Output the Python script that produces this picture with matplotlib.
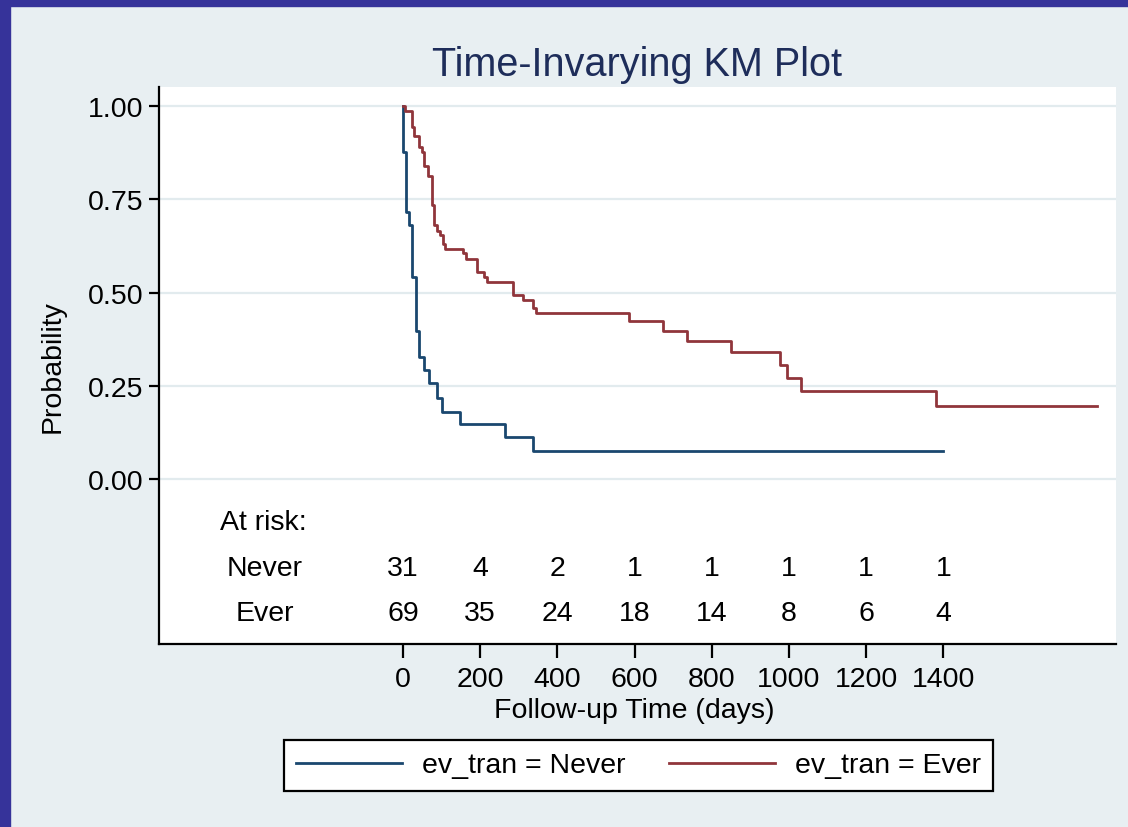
import matplotlib
matplotlib.use("Agg")
import matplotlib.pyplot as plt
from matplotlib.patches import Rectangle

plt.rcParams['font.family'] = ['Liberation Sans', 'DejaVu Sans']

# KM step data (days, survival probability)
never_t = [0, 1, 8, 15, 23, 34, 42, 55, 68, 89, 102, 149, 264, 338, 1400]
never_s = [1.0, 0.877, 0.716, 0.682, 0.542, 0.397, 0.327, 0.293, 0.257,
           0.217, 0.180, 0.147, 0.112, 0.076, 0.076]

ever_t = [0, 5, 23, 29, 42, 48, 55, 66, 74, 81, 89, 96, 103, 109, 156, 162,
          191, 211, 217, 284, 310, 338, 345, 586, 674, 735, 849, 977, 996,
          1030, 1380, 1798]
ever_s = [1.0, 0.987, 0.945, 0.919, 0.889, 0.876, 0.840, 0.812, 0.736, 0.681,
          0.666, 0.653, 0.630, 0.618, 0.605, 0.590, 0.556, 0.542, 0.529,
          0.493, 0.480, 0.458, 0.445, 0.424, 0.396, 0.369, 0.341, 0.306,
          0.271, 0.236, 0.195, 0.195]

risk_times = [0, 200, 400, 600, 800, 1000, 1200, 1400]
risk_never = [31, 4, 2, 1, 1, 1, 1, 1]
risk_ever = [69, 35, 24, 18, 14, 8, 6, 4]

yticks = [0.0, 0.25, 0.5, 0.75, 1.0]

bg = '#e8eff2'
blue = '#1a476f'
red = '#90353b'
fs = 20.5

fig = plt.figure(figsize=(11.28, 8.28), dpi=100, facecolor=bg)
# dark frame on top and left edge
fig.patches.append(Rectangle((0, 1 - 7 / 828), 1, 7 / 828, transform=fig.transFigure,
                             color='#36339a', zorder=0))
fig.patches.append(Rectangle((0, 0), 10 / 1128, 1, transform=fig.transFigure,
                             color='#36339a', zorder=0))

ax = fig.add_axes([159 / 1128, 1 - 645 / 828, 957 / 1128, 557 / 828])
ax.set_facecolor('white')

for y in yticks:
    ax.axhline(y, color='#e2ebee', lw=1.6, zorder=1)

ax.step(never_t, never_s, where='post', color=blue, lw=2, label='ev_tran = Never', zorder=3)
ax.step(ever_t, ever_s, where='post', color=red, lw=2, label='ev_tran = Ever', zorder=3)

ax.set_xlim(-632, 1847)
ax.set_ylim(-0.442, 1.051)
ax.set_xticks(risk_times)
ax.set_yticks(yticks)
ax.set_yticklabels(['%.2f' % v for v in yticks])
ax.tick_params(axis='x', length=10, width=1.6, labelsize=fs, pad=6)
ax.tick_params(axis='y', length=7, width=1.6, labelsize=fs, pad=4)

for s in ['top', 'right']:
    ax.spines[s].set_visible(False)
for s in ['left', 'bottom']:
    ax.spines[s].set_linewidth(1.6)

# at-risk table
ax.text(-475, -0.116, 'At risk:', fontsize=fs, ha='left', va='center')
ax.text(-358, -0.239, 'Never', fontsize=fs, ha='center', va='center')
ax.text(-358, -0.360, 'Ever', fontsize=fs, ha='center', va='center')
for t, n, e in zip(risk_times, risk_never, risk_ever):
    ax.text(t, -0.239, str(n), fontsize=fs, ha='center', va='center')
    ax.text(t, -0.360, str(e), fontsize=fs, ha='center', va='center')

ax.set_title('Time-Invarying KM Plot', fontsize=28.5, color='#1e2d5a', pad=9)
ax.set_xlabel('Follow-up Time (days)', fontsize=fs)
ax.xaxis.set_label_coords(0.497, -0.095)
ax.set_ylabel('Probability', fontsize=fs)
ax.yaxis.set_label_coords(-0.098, 0.5)

leg = fig.legend(loc='center', bbox_to_anchor=(638.5 / 1128, 1 - 766.5 / 828), ncol=2,
                 fontsize=fs, frameon=True, fancybox=False, edgecolor='black',
                 handlelength=3.7, handletextpad=0.7, columnspacing=1.55,
                 borderpad=0.45)
leg.get_frame().set_linewidth(1.6)
leg.get_frame().set_facecolor('white')
leg.get_frame().set_alpha(1)

fig.savefig('out.png', dpi=100, facecolor=bg)
